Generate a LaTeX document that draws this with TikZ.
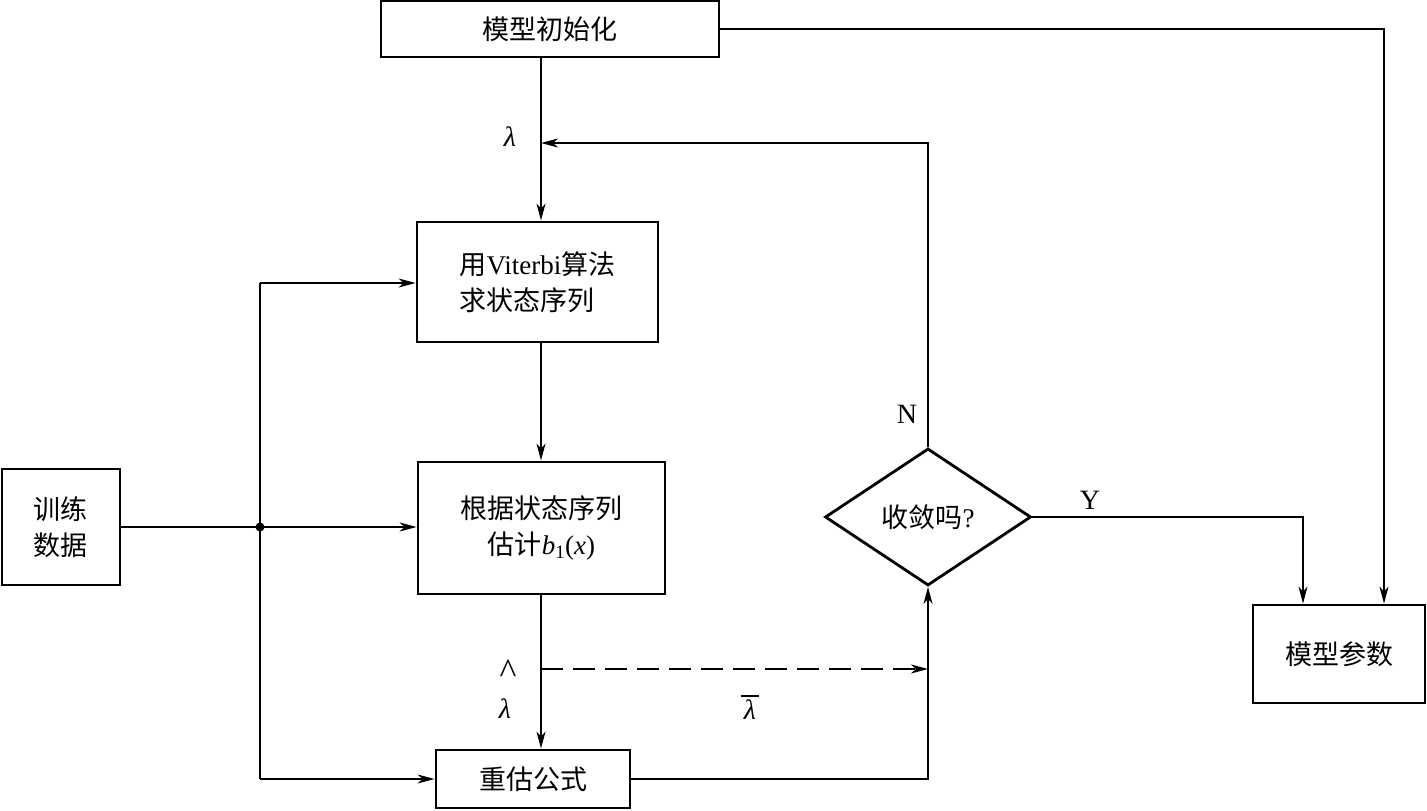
\documentclass[tikz,border=0pt]{standalone}
\usepackage{fontspec}
\setmainfont{Liberation Serif}
\newfontfamily\cjk{Noto Sans CJK SC}
\usetikzlibrary{arrows.meta,shapes.geometric}
\newcommand{\lam}{\textit{λ}}
\begin{document}
\begin{tikzpicture}[x=1pt,y=-1pt,
  box/.style={draw,line width=2.8pt,inner sep=0pt,font=\fontsize{27}{36}\selectfont},
  ln/.style={line width=1.9pt},
  arr/.style={ln,-{Stealth[length=17pt,width=9pt,inset=5pt]}},
  lbl/.style={font=\fontsize{28}{32}\selectfont,inner sep=0pt}]
\useasboundingbox (0,0) rectangle (1427,811);
\node[box,minimum width=338pt,minimum height=56pt] (init) at (550,29) {\cjk 模型初始化};
\node[box,minimum width=241pt,minimum height=120pt,align=left] (vit) at (537.5,282) {{\cjk 用}Viterbi{\cjk 算法}\\{\cjk 求状态序列}};
\node[box,minimum width=247pt,minimum height=132pt,align=center] (est) at (541.5,528) {{\cjk 根据状态序列}\\{\cjk 估计}\textit{b}\textsubscript{1}(\textit{x})};
\node[box,minimum width=194pt,minimum height=58pt] (reest) at (533,779) {\cjk 重估公式};
\node[box,minimum width=118pt,minimum height=116pt,align=center] (train) at (61,527) {{\cjk 训练}\\{\cjk 数据}};
\node[box,minimum width=172pt,minimum height=98pt] (param) at (1339,654) {\cjk 模型参数};
\node[box,diamond,minimum width=206pt,minimum height=137pt] (dia) at (928,517) {{\cjk 收敛吗}?};
% coordinates
\coordinate (cx) at (541,0);
\coordinate (fb) at (541,143);
\coordinate (ds) at (541,669);
\coordinate (py) at (1303,0);
\coordinate (qx) at (1384,0);
\coordinate (j) at (260,527);
\coordinate (jt) at (260,283);
\coordinate (jb) at (260,779);
% connectors
\draw[arr] (init.south -| cx) -- (vit.north -| cx);
\draw[arr] (vit.south -| cx) -- (est.north -| cx);
\draw[arr] (est.south -| cx) -- (reest.north -| cx);
\draw[arr] (dia.north) -- (dia.north |- fb) -- (fb);
\draw[arr,dash pattern=on 22pt off 10pt] (ds) -- (ds -| dia.south);
\draw[arr] (reest.east) -- (reest.east -| dia.south) -- (dia.south);
\draw[arr] (dia.east) -- (dia.east -| py) -- (param.north -| py);
\draw[arr] (init.east) -- (init.east -| qx) -- (param.north -| qx);
\draw[ln] (train.east) -- (j);
\fill (j) circle (4.5pt);
\draw[arr] (j) -- (est.west |- j);
\draw[ln] (jt) -- (jb);
\draw[arr] (jt) -- (vit.west |- jt);
\draw[arr] (jb) -- (reest.west |- jb);
% labels
\node[lbl] (l1) at (510,137) {\lam};
\node[lbl] (n) at (907,414) {N};
\node[lbl] (y) at (1090,500) {Y};
\node[lbl,font=\fontsize{36}{36}\selectfont,text height=0.68em,text depth=-0.3em,anchor=north] (hat) at (508,676) {\textasciicircum};
\node[lbl] (l2) at (505,709) {\lam};
\node[lbl] (l3) at (750,710) {\lam};
\draw[line width=1.6pt] ([xshift=-3pt,yshift=4pt]l3.north west) -- ([xshift=3pt,yshift=4pt]l3.north east);
\end{tikzpicture}
\end{document}
